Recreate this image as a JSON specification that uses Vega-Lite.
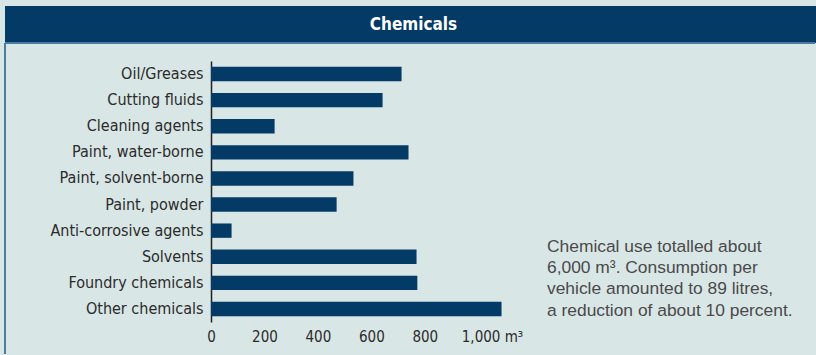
{
  "$schema": "https://vega.github.io/schema/vega-lite/v6.json",
  "background": "#d9e6e6",
  "padding": {"left": 4, "top": 6, "right": 0, "bottom": 0},
  "spacing": 0,
  "bounds": "flush",
  "config": {"font": "DejaVu Sans Condensed, sans-serif"},
  "vconcat": [
    {
      "width": 811,
      "height": 37,
      "view": {"fill": "#033a66", "stroke": null},
      "data": {"values": [{"heading": "Chemicals"}]},
      "mark": {"type": "text", "font": "DejaVu Sans Condensed, sans-serif", "fontWeight": "bold", "fontSize": 17, "color": "#ffffff", "align": "center", "baseline": "middle", "dx": 3},
      "encoding": {"text": {"field": "heading"}}
    },
    {
      "width": 810,
      "height": 311,
      "view": {"fill": "#d9e6e6", "stroke": "#4b7ba3", "strokeWidth": 2, "strokeDash": [810, 1121, 311, 0]},
      "layer": [
        {
          "data": {
            "values": [
              {"category": "Oil/Greases", "volume": 713},
              {"category": "Cutting fluids", "volume": 642},
              {"category": "Cleaning agents", "volume": 238},
              {"category": "Paint, water-borne", "volume": 739},
              {"category": "Paint, solvent-borne", "volume": 533},
              {"category": "Paint, powder", "volume": 470},
              {"category": "Anti-corrosive agents", "volume": 77},
              {"category": "Solvents", "volume": 769},
              {"category": "Foundry chemicals", "volume": 772},
              {"category": "Other chemicals", "volume": 1087}
            ]
          },
          "mark": {"type": "bar", "color": "#033a66"},
          "encoding": {
            "y": {
              "field": "category",
              "type": "nominal",
              "sort": null,
              "scale": {"range": [18, 279], "paddingInner": 0.45, "paddingOuter": 0.225},
              "axis": {
                "title": null,
                "orient": "left",
                "offset": -206,
                "domain": true,
                "domainColor": "#222222",
                "domainWidth": 1.5,
                "ticks": false,
                "tickSize": 0,
                "labelPadding": 8,
                "labelFont": "DejaVu Sans Condensed, sans-serif",
                "labelFontSize": 16,
                "labelColor": "#2b2b2b"
              }
            },
            "x": {
              "field": "volume",
              "type": "quantitative",
              "scale": {"domain": [0, 1100], "range": [206, 500], "nice": false},
              "axis": {
                "title": null,
                "orient": "bottom",
                "offset": -32,
                "domain": false,
                "ticks": false,
                "tickSize": 0,
                "grid": false,
                "values": [0, 200, 400, 600, 800, 1000],
                "labelFlush": false,
                "labelOverlap": false,
                "labelPadding": 7,
                "labelFont": "DejaVu Sans Condensed, sans-serif",
                "labelFontSize": 15,
                "labelColor": "#2b2b2b",
                "labelExpr": "datum.value === 1000 ? '1,000 m³' : format(datum.value, ',')",
                "labelAlign": {"condition": {"test": "datum.value === 1000", "value": "left"}, "value": "center"},
                "labelOffset": {"condition": {"test": "datum.value === 1000", "value": -17}, "value": 0}
              }
            }
          }
        },
        {
          "data": {
            "values": [
              {"line": 1, "text": "Chemical use totalled about"},
              {"line": 2, "text": "6,000 m³. Consumption per"},
              {"line": 3, "text": "vehicle amounted to 89 litres,"},
              {"line": 4, "text": "a reduction of about 10 percent."}
            ]
          },
          "mark": {"type": "text", "font": "Liberation Sans", "fontSize": 17.4, "color": "#4a4a4a", "align": "left", "baseline": "alphabetic"},
          "encoding": {
            "x": {"datum": 0, "type": "quantitative", "scale": {"domain": [0, 1], "range": [542, 811]}, "axis": null},
            "y": {"field": "line", "type": "ordinal", "scale": {"type": "point", "range": [208.7, 272.7], "padding": 0}, "axis": null},
            "text": {"field": "text"}
          }
        }
      ],
      "resolve": {"scale": {"x": "independent", "y": "independent"}}
    }
  ]
}
